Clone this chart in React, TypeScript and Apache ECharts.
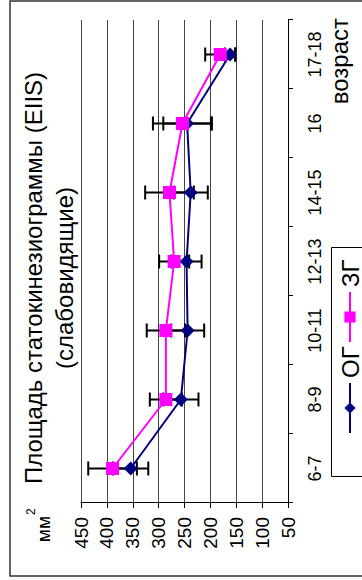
import React, { useEffect, useRef } from 'react';
import * as echarts from 'echarts';

const categories = ['6-7', '8-9', '10-11', '12-13', '14-15', '16', '17-18'];
const ogValues = [354, 257, 244, 246, 238, 245, 162];
const zgValues = [389, 286, 286, 270, 279, 254, 181];
const ogErrors = [34, 34, 32, 29, 33, 46, 10];
const zgErrors = [47, 31, 37, 29, 47, 57, 29];
const valueTicks = { min: 50, max: 450, interval: 50 };
const seriesNames = ['ОГ', 'ЗГ'];

const titleLine1 = 'Площадь статокинезиограммы (EIIS)';
const titleLine2 = '(слабовидящие)';
const unitMain = 'мм';
const unitSup = '2';
const xName = 'возраст';

const FONT = '"Liberation Sans", Arial, sans-serif';

function errorSeries(values: number[], errors: number[]) {
  return {
    type: 'custom',
    z: 1,
    silent: true,
    encode: { x: 0, y: [1, 2] },
    data: values.map((v, i) => [i, v - errors[i], v + errors[i]]),
    renderItem: (params: any, api: any) => {
      const x = api.value(0);
      const p1 = api.coord([x, api.value(1)]);
      const p2 = api.coord([x, api.value(2)]);
      const h = 7;
      const st = { stroke: '#000', lineWidth: 2 };
      return {
        type: 'group',
        children: [
          { type: 'line', shape: { x1: p1[0], y1: p1[1], x2: p2[0], y2: p2[1] }, style: st },
          { type: 'line', shape: { x1: p1[0] - h, y1: p1[1], x2: p1[0] + h, y2: p1[1] }, style: st },
          { type: 'line', shape: { x1: p2[0] - h, y1: p2[1], x2: p2[0] + h, y2: p2[1] }, style: st },
        ],
      };
    },
  };
}

function legendFor(name: string, left: number) {
  return {
    data: [name],
    left,
    top: 338,
    orient: 'horizontal',
    itemWidth: 50,
    itemHeight: 14,
    itemGap: 0,
    padding: 0,
    textStyle: { fontSize: 24, color: '#000', fontFamily: FONT },
  };
}

export default function App() {
  const ref = useRef<HTMLDivElement>(null);
  useEffect(() => {
    const chart = echarts.init(ref.current!, undefined, { renderer: 'svg', width: 580, height: 362 });
    chart.setOption({
      animation: false,
      backgroundColor: '#fff',
      textStyle: { fontFamily: FONT },
      grid: { left: 77, right: 20, top: 81, bottom: 74, containLabel: false },
      xAxis: {
        type: 'category',
        data: categories,
        boundaryGap: true,
        axisLine: { show: true, lineStyle: { color: '#000', width: 1 } },
        axisTick: { show: true, length: 5, alignWithLabel: false, lineStyle: { color: '#000' } },
        axisLabel: { fontSize: 18, color: '#000', margin: 18, fontFamily: FONT },
        splitLine: { show: false },
      },
      yAxis: {
        type: 'value',
        min: valueTicks.min,
        max: valueTicks.max,
        interval: valueTicks.interval,
        axisLine: { show: true, lineStyle: { color: '#000', width: 1 } },
        axisTick: { show: true, length: 5, lineStyle: { color: '#000' } },
        axisLabel: { fontSize: 19, color: '#000', margin: 14, fontFamily: FONT },
        splitLine: { show: true, lineStyle: { color: '#444', width: 1 } },
      },
      legend: [legendFor(seriesNames[0], 146), legendFor(seriesNames[1], 237)],
      graphic: [
        {
          type: 'rect',
          shape: { x: 4, y: 10, width: 575, height: 400 },
          style: { fill: 'none', stroke: '#333', lineWidth: 1.5 },
          silent: true,
          z: -1,
        },
        {
          type: 'rect',
          shape: { x: 103.5, y: 331.5, width: 229, height: 60 },
          style: { fill: 'none', stroke: '#000', lineWidth: 1 },
          silent: true,
          z: 10,
        },
        {
          type: 'text',
          x: 302,
          y: 33.7,
          style: { text: titleLine1, fontSize: 24, fontFamily: FONT, fill: '#000', align: 'center', verticalAlign: 'middle' },
        },
        {
          type: 'text',
          x: 302,
          y: 64.7,
          style: { text: titleLine2, fontSize: 24, fontFamily: FONT, fill: '#000', align: 'center', verticalAlign: 'middle' },
        },
        {
          type: 'text',
          x: 64,
          y: 43.5,
          style: { text: unitMain, fontSize: 19, fontFamily: FONT, fill: '#000', align: 'right', verticalAlign: 'middle' },
        },
        {
          type: 'text',
          x: 65,
          y: 31,
          style: { text: unitSup, fontSize: 12, fontFamily: FONT, fill: '#000', align: 'left', verticalAlign: 'middle' },
        },
        {
          type: 'text',
          x: 562,
          y: 339.7,
          style: { text: xName, fontSize: 24, fontFamily: FONT, fill: '#000', align: 'right', verticalAlign: 'middle' },
        },
      ],
      series: [
        errorSeries(zgValues, zgErrors),
        errorSeries(ogValues, ogErrors),
        {
          name: seriesNames[0],
          type: 'line',
          data: ogValues,
          symbol: 'diamond',
          symbolSize: 14,
          z: 3,
          itemStyle: { color: '#000080' },
          lineStyle: { color: '#000080', width: 2 },
        },
        {
          name: seriesNames[1],
          type: 'line',
          data: zgValues,
          symbol: 'rect',
          symbolSize: 13,
          z: 4,
          itemStyle: { color: '#FF00FF' },
          lineStyle: { color: '#FF00FF', width: 2 },
        },
      ],
    });
    return () => chart.dispose();
  }, []);
  return (
    <div style={{ position: 'fixed', left: 0, top: 0, width: 362, height: 580, overflow: 'hidden', background: '#fff' }}>
      <div
        ref={ref}
        style={{
          position: 'absolute',
          left: 0,
          top: 0,
          width: 580,
          height: 362,
          transformOrigin: '0 0',
          transform: 'translate(0px, 580px) rotate(-90deg)',
        }}
      />
    </div>
  );
}
